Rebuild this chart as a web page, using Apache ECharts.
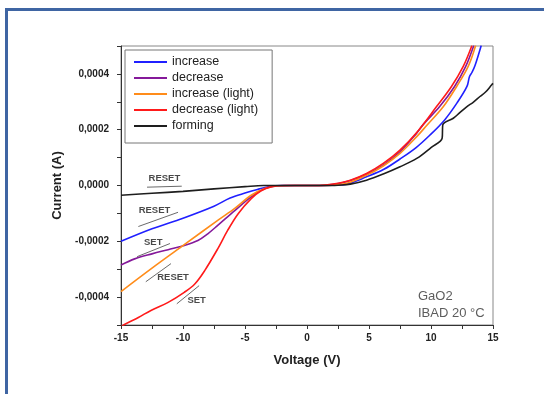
<!DOCTYPE html>
<html>
<head>
<meta charset="utf-8">
<script src="https://cdn.jsdelivr.net/npm/echarts@6/dist/echarts.min.js"></script>
<style>
    html, body { margin: 0; background: #fff; overflow: hidden; }
    #chart { position: absolute; left: 0; top: 0; width: 544px; height: 394px; }
    #frame { position: absolute; left: 5px; top: 8px; width: 560px; height: 420px;
             border-top: 3px solid #3f65a3; border-left: 3px solid #3f65a3; pointer-events: none; }
</style>
</head>
<body>
<div id="chart"></div>
<div id="frame"></div>
<script>
// I-V sweeps, voltage in V, current in A
var legendNames = ['increase', 'decrease', 'increase (light)', 'decrease (light)', 'forming'];

var incV = [-15, -12.5, -10, -7.5, -6.2, -5, -4, -3, -2, -1, 0, 1, 2, 3.2, 4.8, 6.2, 7.5, 8.8, 9.9, 11.1, 12.1, 12.9, 13.1, 13.3, 13.55, 14.05];
var incI = [-2.0e-4, -1.55e-4, -1.17e-4, -7.4e-5, -4.5e-5, -2.7e-5, -1.4e-5, -4e-6, -5e-7, 0, 0, 0, 1e-6, 5e-6, 3.1e-5, 5.8e-5, 9.5e-5, 1.36e-4, 1.8e-4, 2.35e-4, 2.96e-4, 3.55e-4, 3.9e-4, 4.05e-4, 4.3e-4, 5.02e-4];

var decV = [-15, -13.9, -12.5, -11.2, -9.9, -8.8, -8, -7.2, -5.8, -4.5, -3.4, -2.5, -1, 0, 1, 2.2, 3.5, 4.8, 6.2, 7.5, 8.8, 9.4, 10.7, 11.9, 12.8, 13.45];
var decI = [-2.85e-4, -2.63e-4, -2.45e-4, -2.3e-4, -2.15e-4, -1.97e-4, -1.73e-4, -1.43e-4, -8.9e-5, -4.1e-5, -1.1e-5, -1e-6, 0, 0, 0, 4e-6, 1.8e-5, 4e-5, 7.5e-5, 1.21e-4, 1.85e-4, 2.2e-4, 2.83e-4, 3.55e-4, 4.27e-4, 5.02e-4];

var incLightV = [-15, -12.5, -9.9, -7.2, -5.8, -4.5, -3.4, -2.3, -1, 0, 1, 2.9, 4.8, 6.15, 7.5, 8.85, 9.65, 11.0, 12.07, 13.0, 13.6];
var incLightI = [-3.8e-4, -2.96e-4, -2.12e-4, -1.25e-4, -8.1e-5, -3.5e-5, -1.1e-5, -1e-6, 0, 0, 0, 5e-6, 3.7e-5, 7.0e-5, 1.15e-4, 1.75e-4, 2.15e-4, 2.83e-4, 3.55e-4, 4.27e-4, 5.02e-4];

var decLightV = [-15, -14.8, -13.6, -12.55, -11.2, -9.9, -9.05, -8.25, -7.2, -6.4, -5.55, -4.5, -3.7, -2.9, -1.8, -1, 0, 1, 2.1, 3.5, 4.8, 6.15, 7.5, 8.85, 10.45, 11.65, 12.6, 13.3];
var decLightI = [-5.08e-4, -5.0e-4, -4.73e-4, -4.47e-4, -4.19e-4, -3.83e-4, -3.53e-4, -3.05e-4, -2.27e-4, -1.61e-4, -1.01e-4, -4.7e-5, -1.9e-5, -5e-6, 0, 0, 0, 0, 5e-6, 1.9e-5, 4.3e-5, 7.9e-5, 1.27e-4, 1.9e-4, 2.83e-4, 3.55e-4, 4.27e-4, 5.02e-4];

var formV = [-15, -12.5, -10, -7.5, -5, -3.5, -2, 0, 2, 2.5, 3.5, 4.8, 6.15, 7.5, 8.85, 10, 10.9, 10.95, 11.8, 12.3, 12.9, 13.4, 13.95, 14.4, 14.9, 15];
var formI = [-3.5e-5, -2.8e-5, -2.1e-5, -1.2e-5, -4e-6, 0, 0, 0, 0, 1e-6, 5e-6, 1.9e-5, 4.1e-5, 6.7e-5, 9.7e-5, 1.36e-4, 1.7e-4, 2.17e-4, 2.41e-4, 2.6e-4, 2.83e-4, 2.98e-4, 3.19e-4, 3.35e-4, 3.61e-4, 3.66e-4];

// annotation texts and arrows (voltage, current)
var noteText = [
    [-11.5, 2.6e-5, 'RESET'],
    [-12.3, -8.9e-5, 'RESET'],
    [-12.4, -2.04e-4, 'SET'],
    [-10.8, -3.3e-4, 'RESET'],
    [-8.9, -4.13e-4, 'SET']
];
var noteArrows = [
    [[-12.9, -6e-6], [-10.1, -2.5e-6]],
    [[-13.6, -1.47e-4], [-10.4, -9.6e-5]],
    [[-11.05, -2.08e-4], [-13.7, -2.55e-4]],
    [[-13.0, -3.45e-4], [-10.97, -2.8e-4]],
    [[-8.7, -3.59e-4], [-10.5, -4.24e-4]]
];
var sampleText = [[8.95, -3.97e-4, 'GaO2'], [8.95, -4.57e-4, 'IBAD 20 °C']];

var colors = ['#2020ff', '#85199a', '#ff8c1a', '#ff1a1a', '#1e1e1e'];
var font = 'Liberation Sans, Arial, sans-serif';

function pairs(xs, ys) {
    return xs.map(function (x, i) { return [x, ys[i]]; });
}

var chart = echarts.init(document.getElementById('chart'));

var curves = [
    pairs(incV, incI), pairs(decV, decI), pairs(incLightV, incLightI),
    pairs(decLightV, decLightI), pairs(formV, formI)
];

var series = curves.map(function (d, i) {
    return {
        name: legendNames[i],
        type: 'line',
        data: d,
        showSymbol: false,
        smooth: 0.35,
        lineStyle: { width: 1.6, color: colors[i] },
        itemStyle: { color: colors[i] },
        animation: false
    };
});

series.push({
    name: 'notes',
    type: 'scatter',
    symbolSize: 1,
    itemStyle: { color: 'transparent' },
    silent: true,
    animation: false,
    data: noteText.map(function (n) { return { value: n }; }).concat(sampleText.map(function (n) {
        return {
            value: n,
            label: { align: 'left', fontSize: 13, fontWeight: 'normal', color: '#333' }
        };
    })),
    label: {
        show: true,
        position: 'inside',
        formatter: function (p) { return p.data.value[2]; },
        fontFamily: font,
        fontSize: 9.5,
        fontWeight: 'bold',
        color: '#1a1a1a'
    },
    markLine: {
        silent: true,
        animation: false,
        symbol: ['none', 'arrow'],
        symbolSize: [0, 6],
        label: { show: false },
        lineStyle: { color: '#444', width: 0.8, type: 'solid' },
        data: noteArrows.map(function (a) {
            return [{ coord: a[0] }, { coord: a[1] }];
        })
    }
});

var option = {
    backgroundColor: 'transparent',
    grid: {
        left: 121, right: 51, top: 46, bottom: 69,
        show: true, borderColor: '#888', borderWidth: 1
    },
    legend: {
        data: legendNames,
        orient: 'vertical',
        left: 125,
        top: 50,
        icon: 'rect',
        itemWidth: 33,
        itemHeight: 2,
        itemGap: 2,
        padding: [5, 14, 10, 9],
        borderColor: '#777',
        borderWidth: 1,
        backgroundColor: '#fff',
        textStyle: { fontFamily: font, fontSize: 12.5, lineHeight: 14, color: '#222' }
    },
    xAxis: {
        type: 'value',
        min: -15,
        max: 15,
        interval: 2.5,
        name: 'Voltage (V)',
        nameLocation: 'middle',
        nameGap: 29,
        nameTextStyle: { fontFamily: font, fontSize: 13, fontWeight: 'bold', color: '#222' },
        splitLine: { show: false },
        axisLine: { onZero: false, lineStyle: { color: '#333', width: 1 } },
        axisTick: { inside: false, length: 4, lineStyle: { color: '#333' } },
        axisLabel: {
            margin: 8,
            showMinLabel: true,
            showMaxLabel: true,
            fontFamily: font, fontSize: 10, fontWeight: 'bold', color: '#222',
            formatter: function (v) {
                return Math.abs(v % 5) < 1e-9 ? String(v) : '';
            }
        }
    },
    yAxis: {
        type: 'value',
        min: -0.0005,
        max: 0.0005,
        interval: 0.0001,
        name: 'Current (A)',
        nameLocation: 'middle',
        nameGap: 47,
        nameTextStyle: { fontFamily: font, fontSize: 13, fontWeight: 'bold', color: '#222' },
        splitLine: { show: false },
        axisLine: { show: true, onZero: false, lineStyle: { color: '#333', width: 1 } },
        axisTick: { show: true, inside: false, length: 4, lineStyle: { color: '#333' } },
        axisLabel: {
            margin: 12,
            fontFamily: font, fontSize: 10, fontWeight: 'bold', color: '#222',
            formatter: function (v) {
                var k = Math.round(v * 1e4);
                if (k % 2 !== 0) return '';
                return (k / 1e4).toFixed(4).replace('.', ',');
            }
        }
    },
    series: series
};

chart.setOption(option);
window.addEventListener('resize', function () {
    chart.resize();
});
</script>
</body>
</html>
